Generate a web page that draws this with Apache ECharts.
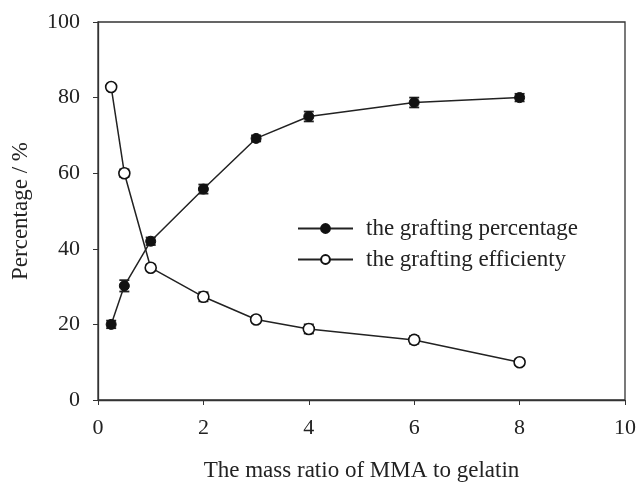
<!DOCTYPE html>
<html><head><meta charset="utf-8">
<script src="https://cdn.jsdelivr.net/npm/echarts@6/dist/echarts.min.js"></script>
<style>html,body{margin:0;padding:0;background:#fff}#c{width:638px;height:483px}</style>
</head><body><div id="c"></div>
<script>
var ratios = [0.25, 0.5, 1, 2, 3, 4, 6, 8];
var graftPct = [20, 30.2, 42, 55.8, 69.2, 75, 78.7, 80];
var graftPctErr = [1, 1.5, 1, 1.2, 0.8, 1.3, 1.3, 1];
var graftEff = [82.8, 60, 35, 27.3, 21.3, 18.8, 15.9, 10];
var graftEffErr = [0.8, 1, 0.8, 1.2, 0.8, 1.2, 1, 0.8];
var xTicks = [0, 2, 4, 6, 8, 10];
var yTicks = [0, 20, 40, 60, 80, 100];

var font = 'Liberation Serif';
function pairs(xs, ys){ return xs.map(function(x,i){ return [x, ys[i]]; }); }
function errData(xs, ys, es){ return xs.map(function(x,i){ return [x, ys[i]-es[i], ys[i]+es[i]]; }); }
function errRender(params, api){
  var x = api.value(0);
  var lo = api.coord([x, api.value(1)]);
  var hi = api.coord([x, api.value(2)]);
  var hw = 5;
  var st = {stroke:'#222', lineWidth:1.8};
  return {type:'group', children:[
    {type:'line', shape:{x1:lo[0], y1:lo[1], x2:hi[0], y2:hi[1]}, style:st},
    {type:'line', shape:{x1:lo[0]-hw, y1:lo[1], x2:lo[0]+hw, y2:lo[1]}, style:st},
    {type:'line', shape:{x1:hi[0]-hw, y1:hi[1], x2:hi[0]+hw, y2:hi[1]}, style:st}
  ]};
}
var chart = echarts.init(document.getElementById('c'));
chart.setOption({
  animation:false,
  backgroundColor:'#fff',
  textStyle:{fontFamily:font},
  grid:{left:98, right:13, top:22, bottom:83, containLabel:false, outerBoundsMode:'none',
        show:true, borderColor:'#333', borderWidth:1.3},
  legend:{
    orient:'vertical', left:297, top:217, padding:0, itemWidth:55, itemHeight:11, itemGap:8,
    data:['the grafting percentage','the grafting efficienty'],
    textStyle:{fontFamily:font, fontSize:23, lineHeight:23, color:'#222', padding:[0,0,0,8]}
  },
  xAxis:{
    type:'value', min:0, max:10, interval:2,
    name:'The mass ratio of MMA to gelatin', nameLocation:'middle', nameGap:59,
    nameTextStyle:{fontFamily:font, fontSize:23, color:'#222'},
    axisLine:{show:true, lineStyle:{color:'#333', width:1.3}},
    axisTick:{show:true, inside:false, length:5, lineStyle:{color:'#333'}},
    axisLabel:{fontFamily:font, fontSize:22, color:'#222', margin:17},
    splitLine:{show:false}
  },
  yAxis:{
    type:'value', min:0, max:100, interval:20,
    name:'Percentage / %', nameLocation:'middle', nameGap:66,
    nameTextStyle:{fontFamily:font, fontSize:23, color:'#222'},
    axisLine:{show:true, lineStyle:{color:'#333', width:1.3}},
    axisTick:{show:true, inside:false, length:5, lineStyle:{color:'#333'}},
    axisLabel:{fontFamily:font, fontSize:22, color:'#222', margin:18},
    splitLine:{show:false}
  },
  series:[
    {type:'custom', renderItem:errRender, data:errData(ratios, graftPct, graftPctErr), z:3, silent:true},
    {type:'custom', renderItem:errRender, data:errData(ratios, graftEff, graftEffErr), z:3, silent:true},
    {name:'the grafting percentage', type:'line', data:pairs(ratios, graftPct), symbol:'circle', symbolSize:10,
     lineStyle:{color:'#222', width:1.5}, itemStyle:{color:'#111', borderColor:'#111', borderWidth:1}, z:4},
    {name:'the grafting efficienty', type:'line', data:pairs(ratios, graftEff), symbol:'circle', symbolSize:11,
     lineStyle:{color:'#222', width:1.5}, itemStyle:{color:'#fff', borderColor:'#111', borderWidth:1.6}, z:4}
  ]
});
</script></body></html>
